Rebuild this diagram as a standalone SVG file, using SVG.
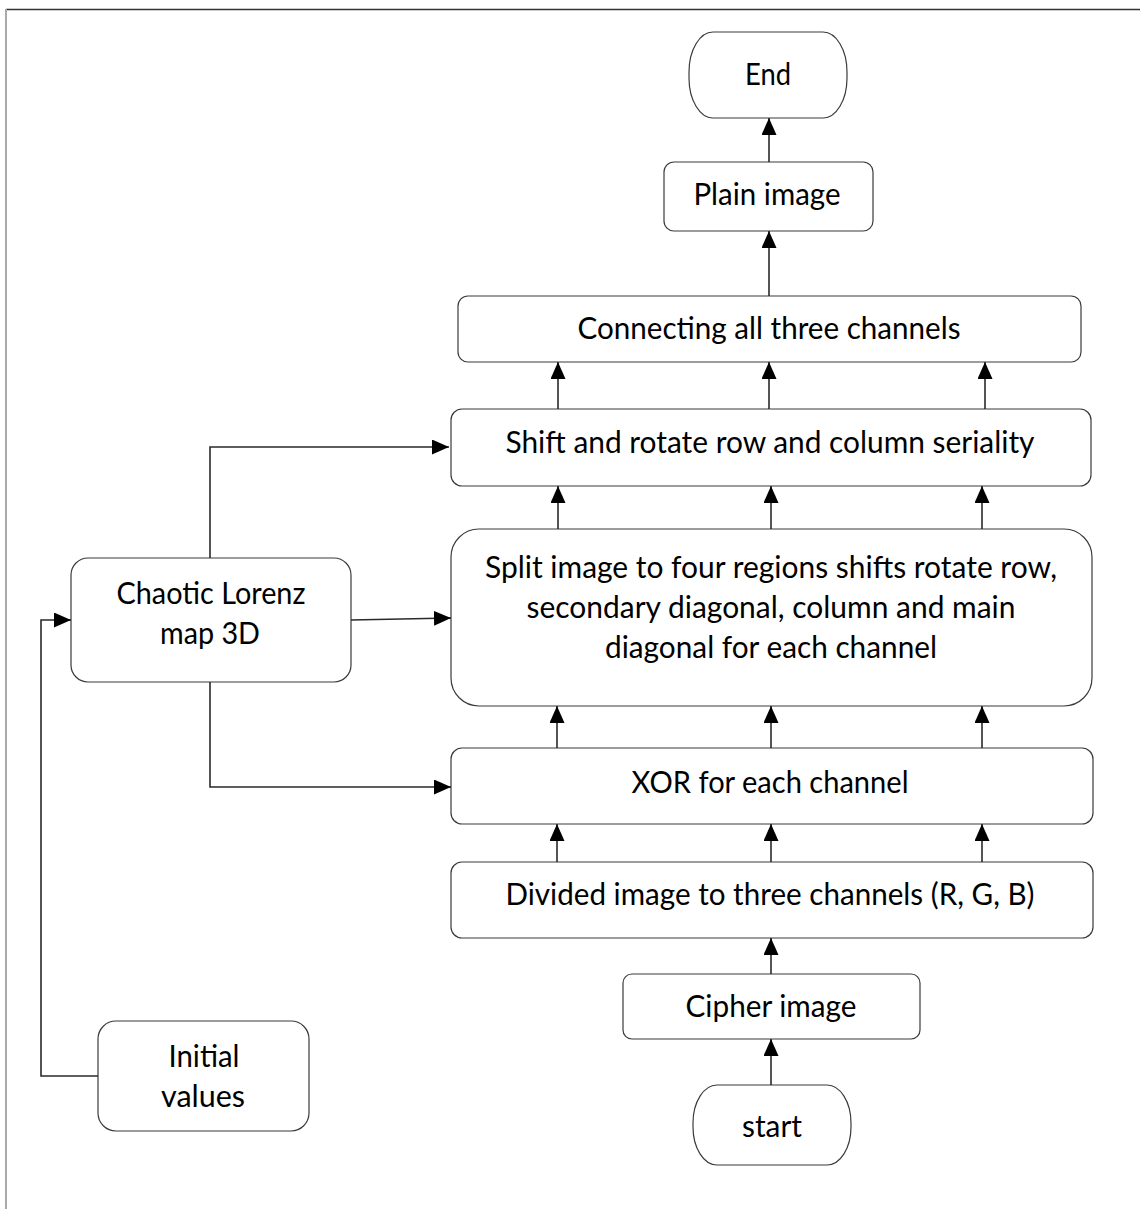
<svg xmlns="http://www.w3.org/2000/svg" width="1140" height="1209" viewBox="0 0 1140 1209">
<style>
.box{fill:#fff;stroke:#3a3a3a;stroke-width:1.2}
.t{font-family:Lato,"Open Sans","Liberation Sans",sans-serif;font-size:31px;fill:#000;text-anchor:middle}
.c{fill:none;stroke:#2a2a2a;stroke-width:1.6}
</style>
<defs>
<marker id="ah" markerUnits="userSpaceOnUse" markerWidth="18" markerHeight="16" refX="17" refY="7.5" orient="auto">
<path d="M0,0 L17,7.5 L0,15 z" fill="#000"/>
</marker>
</defs>
<rect width="1140" height="1209" fill="#fff"/>
<line x1="6" y1="9.5" x2="1140" y2="9.5" stroke="#333" stroke-width="1.5"/>
<line x1="6" y1="9" x2="6" y2="1209" stroke="#aaa" stroke-width="2"/>

<g id="end"><rect class="box" x="689" y="32" width="158" height="86" rx="24" ry="40"/><text class="t" x="768" y="85" textLength="46" lengthAdjust="spacingAndGlyphs">End</text></g>
<g id="plain"><rect class="box" x="664" y="162" width="209" height="69" rx="10"/><text class="t" x="767" y="205" textLength="147" lengthAdjust="spacingAndGlyphs">Plain image</text></g>
<g id="connecting"><rect class="box" x="458" y="296" width="623" height="66" rx="10"/><text class="t" x="769" y="339" textLength="383" lengthAdjust="spacingAndGlyphs">Connecting all three channels</text></g>
<g id="shift"><rect class="box" x="451" y="409" width="640" height="77" rx="11"/><text class="t" x="770" y="453" textLength="529" lengthAdjust="spacingAndGlyphs">Shift and rotate row and column seriality</text></g>
<g id="split"><rect class="box" x="451" y="529" width="641" height="177" rx="28"/>
<text class="t" x="771" y="578" textLength="572" lengthAdjust="spacingAndGlyphs">Split image to four regions shifts rotate row,</text>
<text class="t" x="771" y="618" textLength="489" lengthAdjust="spacingAndGlyphs">secondary diagonal, column and main</text>
<text class="t" x="771" y="658" textLength="332" lengthAdjust="spacingAndGlyphs">diagonal for each channel</text></g>
<g id="xor"><rect class="box" x="451" y="748" width="642" height="76" rx="11"/><text class="t" x="770" y="793" textLength="277" lengthAdjust="spacingAndGlyphs">XOR for each channel</text></g>
<g id="divided"><rect class="box" x="451" y="862" width="642" height="76" rx="11"/><text class="t" x="770" y="905" textLength="529" lengthAdjust="spacingAndGlyphs">Divided image to three channels (R, G, B)</text></g>
<g id="cipher"><rect class="box" x="623" y="974" width="297" height="65" rx="9"/><text class="t" x="771" y="1017" textLength="171" lengthAdjust="spacingAndGlyphs">Cipher image</text></g>
<g id="start"><rect class="box" x="693" y="1085" width="158" height="80" rx="24" ry="38"/><text class="t" x="772" y="1137" textLength="60" lengthAdjust="spacingAndGlyphs">start</text></g>
<g id="chaotic"><rect class="box" x="71" y="558" width="280" height="124" rx="17"/>
<text class="t" x="211" y="604" textLength="189" lengthAdjust="spacingAndGlyphs">Chaotic Lorenz</text>
<text class="t" x="210" y="644" textLength="100" lengthAdjust="spacingAndGlyphs">map 3D</text></g>
<g id="initial"><rect class="box" x="98" y="1021" width="211" height="110" rx="18"/>
<text class="t" x="204" y="1067" textLength="71" lengthAdjust="spacingAndGlyphs">Initial</text>
<text class="t" x="203" y="1107" textLength="84" lengthAdjust="spacingAndGlyphs">values</text></g>

<g id="connectors">
<path class="c" marker-end="url(#ah)" d="M769,162 V118"/>
<path class="c" marker-end="url(#ah)" d="M769,296 V231"/>
<path class="c" marker-end="url(#ah)" d="M558,409 V362"/>
<path class="c" marker-end="url(#ah)" d="M769,409 V362"/>
<path class="c" marker-end="url(#ah)" d="M985,409 V362"/>
<path class="c" marker-end="url(#ah)" d="M558,529 V486"/>
<path class="c" marker-end="url(#ah)" d="M771,529 V486"/>
<path class="c" marker-end="url(#ah)" d="M982,529 V486"/>
<path class="c" marker-end="url(#ah)" d="M557,748 V706"/>
<path class="c" marker-end="url(#ah)" d="M771,748 V706"/>
<path class="c" marker-end="url(#ah)" d="M982,748 V706"/>
<path class="c" marker-end="url(#ah)" d="M557,862 V824"/>
<path class="c" marker-end="url(#ah)" d="M771,862 V824"/>
<path class="c" marker-end="url(#ah)" d="M982,862 V824"/>
<path class="c" marker-end="url(#ah)" d="M771,974 V938"/>
<path class="c" marker-end="url(#ah)" d="M771,1085 V1039"/>
<path class="c" marker-end="url(#ah)" d="M210,558 V447 H449"/>
<path class="c" marker-end="url(#ah)" d="M351,620 L451,618"/>
<path class="c" marker-end="url(#ah)" d="M210,682 V787 H451"/>
<path class="c" marker-end="url(#ah)" d="M98,1076 H41 V620 H71"/>
</g>
</svg>
